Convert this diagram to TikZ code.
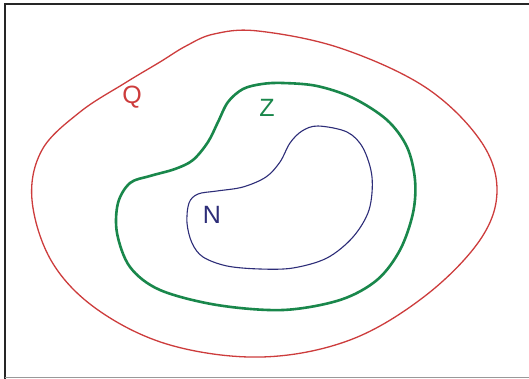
\documentclass[tikz,border=0pt]{standalone}
\usepackage{fontspec}
\setmainfont{Liberation Sans}
\begin{document}
\begin{tikzpicture}[x=1pt,y=-1pt,
  setQ/.style={draw=qred,line width=1.3pt},
  setZ/.style={draw=zgreen,line width=2.6pt},
  setN/.style={draw=nblue,line width=1.1pt},
  lbl/.style={font=\fontsize{25}{25}\selectfont,inner sep=0pt}]
\definecolor{qred}{RGB}{205,60,60}
\definecolor{zgreen}{RGB}{25,135,75}
\definecolor{nblue}{RGB}{45,45,120}
\useasboundingbox (0,0) rectangle (529,379);
\fill[white] (0,0) rectangle (529,379);
\draw[line width=2pt,black!85] (5,379) -- (5,4.5) -- (529,4.5);
\draw[line width=1.5pt,black!40] (5,377.5) -- (529,377.5);
% Q
\draw[setQ] plot[smooth cycle,tension=0.6] coordinates {
 (258,31) (340,48) (425,87) (480,140) (497,190)
 (480,240) (425,296) (350,340) (262,357) (170,345) (98,310)
 (52,262) (32,200) (42,150) (80,112) (125,83) (160,62) (186,46) (214,34)};
% Z
\draw[setZ] plot[smooth cycle,tension=0.55] coordinates {
 (283,83) (317,86) (353,98) (387,120) (407,147) (415,180) (413,213)
 (400,250) (377,280) (340,300) (283,310) (217,305) (160,290) (130,267)
 (117,233) (118,203) (130,183) (150,176) (175,169) (193,160) (208,142)
 (218,122) (228,102) (243,89) (262,84)};
% N
\draw[setN] plot[smooth cycle,tension=0.55] coordinates {
 (318,126) (347,132) (363,148) (372,177) (369,210) (353,237) (327,258)
 (293,268) (260,269) (227,266) (203,257) (192,243) (187,223) (189,203)
 (198,194) (217,191) (243,187) (266,177) (280,162) (290,143) (302,131)};
\node[lbl,text=qred] (q) at (132,97) {Q};
\node[lbl,text=zgreen] (z) at (267,108) {Z};
\node[lbl,text=nblue] (n) at (212,215) {N};
\end{tikzpicture}
\end{document}
